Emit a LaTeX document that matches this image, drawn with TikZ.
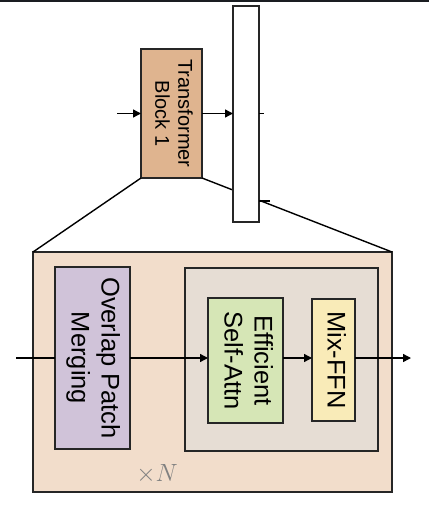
\documentclass[tikz,border=0pt]{standalone}
\usepackage{fontspec}
\setmainfont{Liberation Sans}
\usetikzlibrary{arrows.meta}
\definecolor{tbfill}{HTML}{DFB48F}
\definecolor{bigfill}{HTML}{F2DDCB}
\definecolor{opmfill}{HTML}{D0C3D9}
\definecolor{innerfill}{HTML}{E6DDD4}
\definecolor{esafill}{HTML}{D6E6B6}
\definecolor{ffnfill}{HTML}{F9EBB8}
\definecolor{topband}{HTML}{1A1D21}
\newcommand{\vtext}[1]{\rotatebox[origin=c]{-90}{\begin{tabular}{@{}c@{}}#1\end{tabular}}}
\begin{document}
\begin{tikzpicture}[x=1pt,y=-1pt,
  box/.style={draw=black!85,line width=1.6pt,rectangle,inner sep=0pt,outer sep=0pt},
  arr/.style={line width=1.4pt,-{Triangle[length=8pt,width=8pt]}},
  ln/.style={line width=1.4pt},
  smallfont/.style={font=\fontsize{20}{23}\selectfont},
  bigfont/.style={font=\fontsize{25.5}{30}\selectfont}]
\useasboundingbox (0,0) rectangle (429,512);
\fill[topband] (0,0) rectangle (429,2);
% top part
\node[box,fill=tbfill,minimum width=61pt,minimum height=129pt,smallfont] (tb) at (171.5,113.5) {\vtext{Transformer\\Block 1}};
\node[box,fill=bigfill,minimum width=359pt,minimum height=240pt] (big) at (212.5,372) {};
\draw[ln] (tb.south west) -- (big.north west);
\draw[ln] (tb.south east) -- (big.north east);
\node[box,fill=white,minimum width=26pt,minimum height=216pt] (bar) at (246,114) {};
\coordinate (in1) at (117,113.5);
\coordinate (t1) at (264,113.5);
\coordinate (t2a) at (259,201);
\coordinate (t2b) at (270,201);
\draw[arr] (in1) -- (tb.west);
\draw[arr] (tb.east) -- (tb.east -| bar.west);
\draw[ln] (tb.east -| bar.east) -- (t1);
\draw[ln] (t2a) -- (t2b);
% bottom part
\node[box,fill=opmfill,minimum width=75pt,minimum height=182pt,bigfont] (opm) at (92.5,358) {\vtext{Overlap Patch\\Merging}};
\node[box,fill=innerfill,minimum width=193pt,minimum height=183pt] (inner) at (281.5,359.5) {};
\node[box,fill=esafill,minimum width=75pt,minimum height=125pt,bigfont] (esa) at (245.5,360.5) {\vtext{Efficient\\Self-Attn}};
\node[box,fill=ffnfill,minimum width=43pt,minimum height=122pt,bigfont] (ffn) at (333.5,360) {\vtext{Mix-FFN}};
\node[text=gray,font=\fontsize{24}{28}\selectfont,inner sep=0pt] (xn) at (157,474) {$\times N$};
\coordinate (in2) at (16,358);
\coordinate (out) at (411,358);
\draw[ln] (in2) -- (opm.west);
\draw[arr] (opm.east) -- (opm.east -| esa.west);
\draw[arr] (opm.east -| esa.east) -- (opm.east -| ffn.west);
\draw[arr] (opm.east -| ffn.east) -- (out);
\end{tikzpicture}
\end{document}
